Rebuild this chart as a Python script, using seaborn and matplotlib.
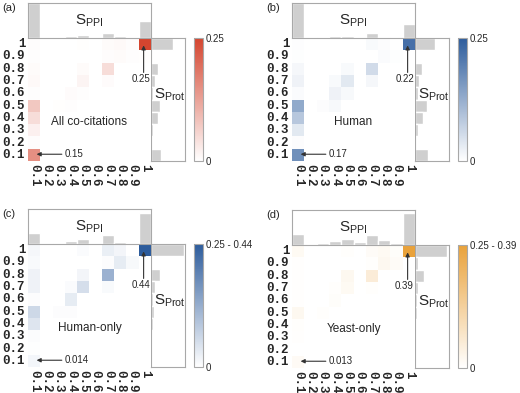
import matplotlib
matplotlib.use('Agg')
import matplotlib.pyplot as plt
import seaborn as sns
import pandas as pd
from matplotlib.colors import LinearSegmentedColormap

sns.set_style('white')
plt.rcParams['font.family'] = ['Liberation Sans', 'DejaVu Sans']
plt.rcParams['mathtext.fontset'] = 'custom'
plt.rcParams['mathtext.rm'] = 'Liberation Sans'

# bins of S_PPI (columns) and S_Prot (rows, 1 at top)
x_bins = ['0.1', '0.2', '0.3', '0.4', '0.5', '0.6', '0.7', '0.8', '0.9', '1']
y_bins = x_bins[::-1]

# fraction of pairs in each cell, rows from S_Prot = 1 down to 0.1
all_cocit = [
    [0.004, 0, 0, 0, 0.002, 0, 0.006, 0.008, 0.004, 0.25],
    [0.003, 0, 0, 0, 0, 0, 0.004, 0.006, 0.003, 0.002],
    [0.006, 0, 0, 0, 0.006, 0, 0.045, 0, 0, 0],
    [0.008, 0, 0, 0, 0.015, 0, 0.005, 0, 0, 0],
    [0.003, 0, 0, 0.005, 0.003, 0, 0, 0, 0, 0],
    [0.075, 0, 0.002, 0.003, 0, 0, 0, 0, 0, 0],
    [0.045, 0, 0, 0, 0, 0, 0, 0, 0, 0],
    [0.02, 0, 0, 0, 0, 0, 0, 0, 0, 0],
    [0.004, 0, 0, 0, 0, 0, 0, 0, 0, 0],
    [0.15, 0, 0, 0, 0, 0, 0, 0, 0, 0],
]
human = [
    [0.003, 0, 0, 0, 0, 0, 0.008, 0.004, 0, 0.22],
    [0.002, 0, 0, 0, 0, 0, 0, 0.006, 0.002, 0],
    [0.012, 0, 0, 0, 0.008, 0, 0.055, 0, 0, 0],
    [0.02, 0, 0, 0.008, 0.035, 0, 0.012, 0, 0, 0],
    [0.006, 0, 0, 0.02, 0.01, 0, 0, 0, 0, 0],
    [0.13, 0, 0.004, 0.01, 0, 0, 0, 0, 0, 0],
    [0.085, 0, 0, 0, 0, 0, 0, 0, 0, 0],
    [0.035, 0, 0, 0, 0, 0, 0, 0, 0, 0],
    [0.004, 0, 0, 0, 0, 0, 0, 0, 0, 0],
    [0.17, 0, 0, 0, 0, 0, 0, 0, 0, 0],
]
human_only = [
    [0.012, 0, 0, 0, 0.006, 0, 0.025, 0.015, 0, 0.44],
    [0.008, 0, 0, 0, 0, 0, 0.004, 0.03, 0.01, 0],
    [0.02, 0, 0, 0, 0.015, 0, 0.12, 0, 0, 0],
    [0.02, 0, 0, 0.006, 0.05, 0, 0.008, 0, 0, 0],
    [0.004, 0, 0, 0.03, 0, 0, 0, 0, 0, 0],
    [0.06, 0, 0.004, 0.004, 0, 0, 0, 0, 0, 0],
    [0.04, 0, 0, 0, 0, 0, 0, 0, 0, 0],
    [0.005, 0, 0, 0, 0, 0, 0, 0, 0, 0],
    [0.002, 0, 0, 0, 0, 0, 0, 0, 0, 0],
    [0.014, 0, 0, 0, 0, 0, 0, 0, 0, 0],
]
yeast_only = [
    [0.015, 0, 0, 0, 0.004, 0, 0.01, 0.015, 0.006, 0.39],
    [0.002, 0, 0, 0, 0, 0, 0.004, 0.02, 0.01, 0],
    [0.003, 0, 0, 0, 0.02, 0, 0.05, 0, 0, 0],
    [0.003, 0, 0, 0.004, 0.015, 0, 0.004, 0, 0, 0],
    [0.002, 0, 0, 0.006, 0, 0, 0, 0, 0, 0],
    [0.02, 0, 0.004, 0, 0, 0, 0, 0, 0, 0],
    [0.004, 0, 0, 0, 0, 0, 0, 0, 0, 0],
    [0.002, 0, 0, 0, 0, 0, 0, 0, 0, 0],
    [0, 0, 0, 0, 0, 0, 0, 0, 0, 0],
    [0.013, 0, 0, 0, 0, 0, 0, 0, 0, 0],
]

# marginal distributions (relative heights)
top_a = [1.0, 0, 0.03, 0.06, 0.08, 0.03, 0.14, 0.05, 0.02, 0.5]
top_b = [1.0, 0, 0.03, 0.05, 0.06, 0.02, 0.14, 0.03, 0, 0.4]
top_c = [0.32, 0, 0.03, 0.09, 0.14, 0.03, 0.26, 0.07, 0.03, 0.88]
top_d = [0.32, 0, 0.05, 0.12, 0.17, 0.08, 0.3, 0.14, 0.06, 0.92]
side_a = [0.64, 0, 0.2, 0.12, 0.05, 0.27, 0.2, 0.06, 0, 0.28]
side_b = [0.6, 0, 0.22, 0.13, 0.08, 0.35, 0.23, 0.08, 0, 0.37]
side_c = [0.97, 0, 0.27, 0.13, 0.06, 0.1, 0.05, 0, 0, 0]
side_d = [0.95, 0.08, 0.26, 0.1, 0.05, 0.05, 0, 0, 0, 0]

tags = ['(a)', '(b)', '(c)', '(d)']
names = ['All co-citations', 'Human', 'Human-only', 'Yeast-only']
hi_labels = ['0.25', '0.22', '0.44', '0.39']
lo_labels = ['0.15', '0.17', '0.014', '0.013']
cbar_tops = ['0.25', '0.25', '0.25 - 0.44', '0.25 - 0.39']
colors = ['#d4452f', '#2d5c9c', '#2d5c9c', '#e9a23b']

grey = '#cfcfcf'
frame = '#a8a8a8'
W, H = 520, 393
fig = plt.figure(figsize=(5.2, 3.93), dpi=100)


def box(x, y, w, h):
    return fig.add_axes([x / W, 1 - (y + h) / H, w / W, h / H])


def panel(ox, oy, i, mat, top, side):
    # top marginal
    ax_t = box(ox + 28, oy + 3, 123, 35)
    sns.barplot(x=x_bins, y=top, order=x_bins, color=grey, width=1,
                saturation=1, ax=ax_t)
    ax_t.set_xlim(-0.5, 9.5)
    ax_t.set_ylim(0, 1)
    ax_t.set_xticks([])
    ax_t.set_yticks([])
    ax_t.set_xlabel('')
    ax_t.set_ylabel('')
    for s in ['left', 'top', 'right']:
        ax_t.spines[s].set_color(frame)
        ax_t.spines[s].set_linewidth(0.8)
    ax_t.spines['bottom'].set_visible(False)
    ax_t.text(0.5, 0.5, r'$\mathrm{S_{PPI}}$', transform=ax_t.transAxes,
              ha='center', va='center', fontsize=11)

    # right marginal
    ax_r = box(ox + 151, oy + 38, 34, 123)
    sns.barplot(x=side, y=y_bins, order=y_bins, orient='h', color=grey,
                width=1, saturation=1, ax=ax_r)
    ax_r.set_ylim(9.5, -0.5)
    ax_r.set_xlim(0, 1)
    ax_r.set_xticks([])
    ax_r.set_yticks([])
    ax_r.set_xlabel('')
    ax_r.set_ylabel('')
    for s in ax_r.spines.values():
        s.set_color(frame)
        s.set_linewidth(0.8)
    ax_r.text(0.57, 0.54, r'$\mathrm{S_{Prot}}$', transform=ax_r.transAxes,
              ha='center', va='center', fontsize=11)

    # heatmap
    ax_h = box(ox + 28, oy + 38, 123, 123)
    cax = box(ox + 194, oy + 38, 9, 123)
    df = pd.DataFrame(mat, index=y_bins, columns=x_bins)
    cmap = LinearSegmentedColormap.from_list('c', ['white', colors[i]])
    sns.heatmap(df, ax=ax_h, cmap=cmap, vmin=0, vmax=0.25, cbar_ax=cax,
                xticklabels=True, yticklabels=True,
                cbar_kws={'ticks': [0, 0.25]})
    cbar = ax_h.collections[0].colorbar
    cbar.set_ticklabels(['0', cbar_tops[i]])
    cbar.outline.set_edgecolor(frame)
    cbar.outline.set_linewidth(0.8)
    cax.tick_params(length=0, labelsize=7, pad=2)

    ax_h.set_xlabel('')
    ax_h.set_ylabel('')
    ax_h.tick_params(length=0, pad=2)
    for lab in ax_h.get_yticklabels():
        lab.set(rotation=0, fontfamily='Liberation Mono', fontweight='bold',
                fontsize=9)
    for lab in ax_h.get_xticklabels():
        lab.set(rotation=270, fontfamily='Liberation Mono', fontweight='bold',
                fontsize=9)
    ax_h.spines['top'].set_visible(True)
    ax_h.spines['top'].set_color(frame)
    ax_h.spines['top'].set_linewidth(0.8)

    arrow = dict(arrowstyle='-|>', color='#333333', lw=0.8,
                 mutation_scale=6, shrinkA=0, shrinkB=0)
    ax_h.annotate('', xy=(9.4, 0.6), xytext=(9.4, 2.8), arrowprops=arrow)
    ax_h.text(9.15, 3.3, hi_labels[i], ha='center', va='center', fontsize=7)
    ax_h.annotate('', xy=(0.7, 9.45), xytext=(2.75, 9.45), arrowprops=arrow)
    ax_h.text(2.95, 9.45, lo_labels[i], ha='left', va='center', fontsize=7)
    ax_h.text(5.0, 6.8, names[i], ha='center', va='center', fontsize=8.5)

    fig.text((ox + 2) / W, 1 - (oy + 8) / H, tags[i], fontsize=8,
             ha='left', va='center')


panel(0, 0, 0, all_cocit, top_a, side_a)
panel(264, 0, 1, human, top_b, side_b)
panel(0, 206, 2, human_only, top_c, side_c)
panel(264, 207, 3, yeast_only, top_d, side_d)

fig.savefig('out.png', dpi=100)
